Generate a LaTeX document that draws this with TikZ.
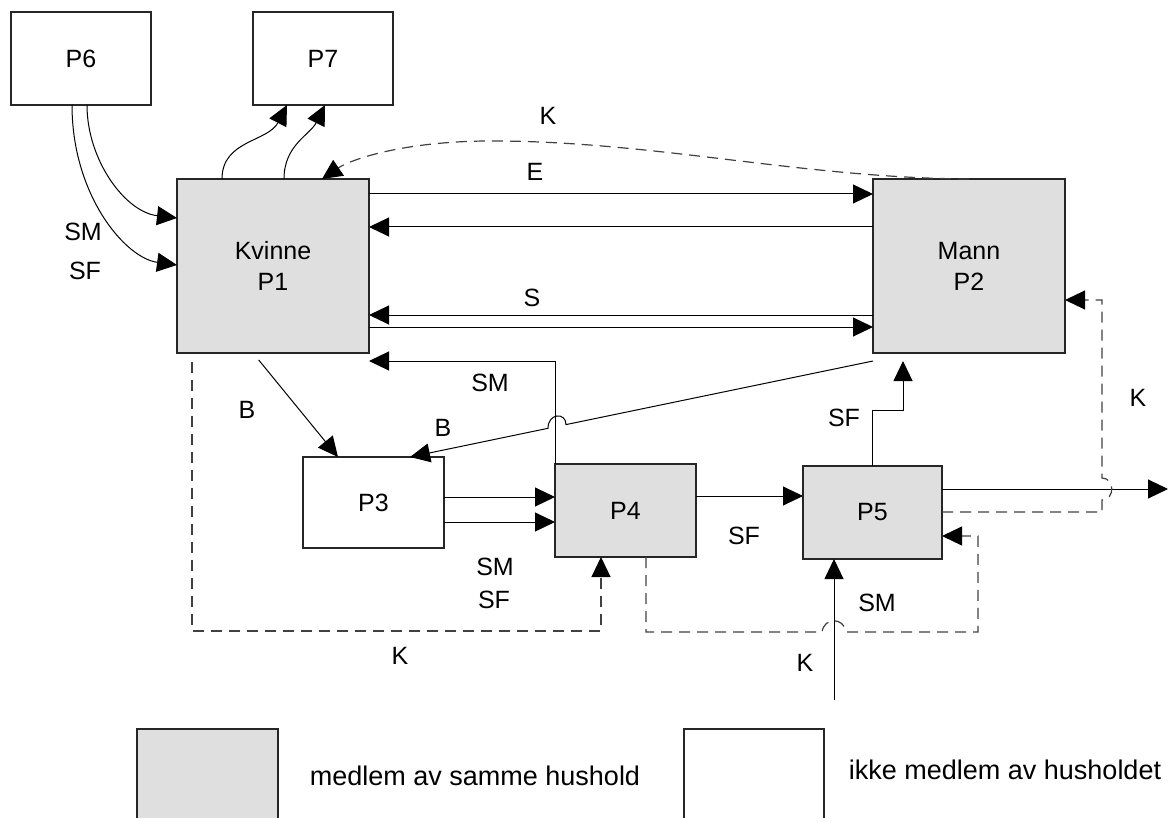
\documentclass[tikz,border=0pt]{standalone}
\usepackage{fontspec}
\setmainfont{Liberation Sans}
\usetikzlibrary{arrows.meta}
\begin{document}
\begin{tikzpicture}[x=0.5pt,y=-0.5pt,
  font=\fontsize{12.5}{15.5}\selectfont,
  box/.style={draw=black!85, line width=0.6pt, inner sep=0pt, outer sep=0pt, align=center,
              minimum width=70pt, minimum height=46.5pt},
  hh/.style={box, fill=gray!25},
  arr/.style={draw=black, line width=0.5pt, -{Triangle[length=10pt,width=9.5pt]}},
  darr/.style={draw=black!75, line width=0.6pt, dash pattern=on 5.5pt off 3.5pt,
               -{Triangle[length=10pt,width=9.5pt,color=black]}},
  lbl/.style={inner sep=0pt},
  leg/.style={inner sep=0pt, font=\fontsize{13.5}{16}\selectfont}
]
\useasboundingbox (0,0) rectangle (1171,818);
\clip (0,0) rectangle (1171,818);

% boxes
\node[box] (P6) at (81,58.5) {P6};
\node[box] (P7) at (323,58.5) {P7};
\node[hh, minimum width=96pt, minimum height=87pt] (P1) at (273,266) {Kvinne\\P1};
\node[hh, minimum width=96pt, minimum height=87pt] (P2) at (969,266) {Mann\\P2};
\node[box, minimum width=70.5pt, minimum height=45.5pt] (P3) at (373.5,502.5) {P3};
\node[hh, minimum width=70.5pt] (P4) at (625.5,510.5) {P4};
\node[hh, minimum width=69.5pt] (P5) at (872.5,512.5) {P5};

% legend
\node[hh, minimum width=70.5pt] (L1) at (207.5,775.5) {};
\node[leg] (L1t) at (475,776) {medlem av samme hushold};
\node[box] (L2) at (754,775.5) {};
\node[leg] (L2t) at (1005,770) {ikke medlem av husholdet};

% P6 -> P1
\draw[arr] (P6.south -| 72,0) .. controls (72,195) and (125,258) .. (P1.west |- 0,265);
\draw[arr] (P6.south -| 87,0) .. controls (87,160) and (125,212) .. (P1.west |- 0,218);
\node[lbl] (lSM1) at (83,232) {SM};
\node[lbl] (lSF1) at (85,271) {SF};

% P1 -> P7
\draw[arr] (P1.north -| 222,0) .. controls (222,140) and (268,142) .. (P7.south -| 287,0);
\draw[arr] (P1.north -| 284,0) .. controls (284,145) and (310,135) .. (P7.south -| 325,0);

% K top (P2 -> P1)
\draw[darr] (P2.north) .. controls (800,178) and (650,140) .. (485,141)
            .. controls (400,142) and (350,160) .. (P1.north -| 322,0);
\node[lbl] (lK1) at (548,116) {K};

% E
\draw[arr] (P1.east |- 0,194) -- (P2.west |- 0,194);
\draw[arr] (P2.west |- 0,227) -- (P1.east |- 0,227);
\node[lbl] (lE) at (535,172) {E};

% S
\draw[arr] (P2.west |- 0,315) -- (P1.east |- 0,315);
\draw[arr] (P1.east |- 0,327) -- (P2.west |- 0,327);
\node[lbl] (lS) at (532,298) {S};

% SM P4 -> P1
\draw[arr] (P4.north west) |- (P1.east |- 0,361);
\node[lbl] (lSM2) at (490,383) {SM};

% B P1 -> P3
\draw[arr, shorten <=4.5pt] (P1.south -| 253,0) -- (P3.north -| 338,0);
\node[lbl] (lB1) at (247,410) {B};

% B P2 -> P3 with hop
\draw[arr] ([yshift=-4pt]P2.south west) -- (566,424.6)
      .. controls (566,412) and (548,413) .. (548,428.3) -- (P3.north -| 410,0);
\node[lbl] (lB2) at (443,428) {B};

% P3 -> P4
\draw[arr] (P3.east |- 0,497) -- (P4.west |- 0,497);
\draw[arr] (P3.east |- 0,522) -- (P4.west |- 0,522);
\node[lbl] (lSM3) at (495,567) {SM};
\node[lbl] (lSF3) at (494,600) {SF};

% P4 -> P5
\draw[arr] (P4.east |- 0,496) -- (P5.west |- 0,496);
\node[lbl] (lSF4) at (744,536) {SF};

% P5 -> P2
\draw[arr, shorten >=4pt] (P5.north -| 872,0) |- (903,410) -- (P2.south -| 903,0);
\node[lbl] (lSF5) at (844,418) {SF};

% P5 -> out
\coordinate (out) at (1168,489);
\draw[arr] (P5.east |- 0,489) -- (out);

% K right dashed P5 -> P2
\draw[darr] (P5.east |- 0,512) -- (1102,512) -- (1102,500)
      .. controls (1115,500) and (1115,478) .. (1102,478) -- (1102,300) -- (P2.east |- 0,300);
\node[lbl] (lK2) at (1138,398) {K};

% K left dashed P1 -> P4
\draw[darr, shorten <=4.5pt] (P1.south -| 192,0) |- (601,631) -- (P4.south -| 601,0);
\node[lbl] (lK3) at (400,656) {K};

% dashed P4 -> P5
\draw[darr] (P4.south -| 646,0) -- (646,632) -- (822,632)
      .. controls (824,617) and (844,617) .. (846,632) -- (978,632) -- (978,536) -- (P5.east |- 0,536);
\node[lbl] (lSM4) at (877,603) {SM};

% K bottom -> P5
\coordinate (kin) at (834,700);
\draw[arr] (kin) -- (P5.south -| 834,0);
\node[lbl] (lK4) at (805,663) {K};
\end{tikzpicture}
\end{document}
